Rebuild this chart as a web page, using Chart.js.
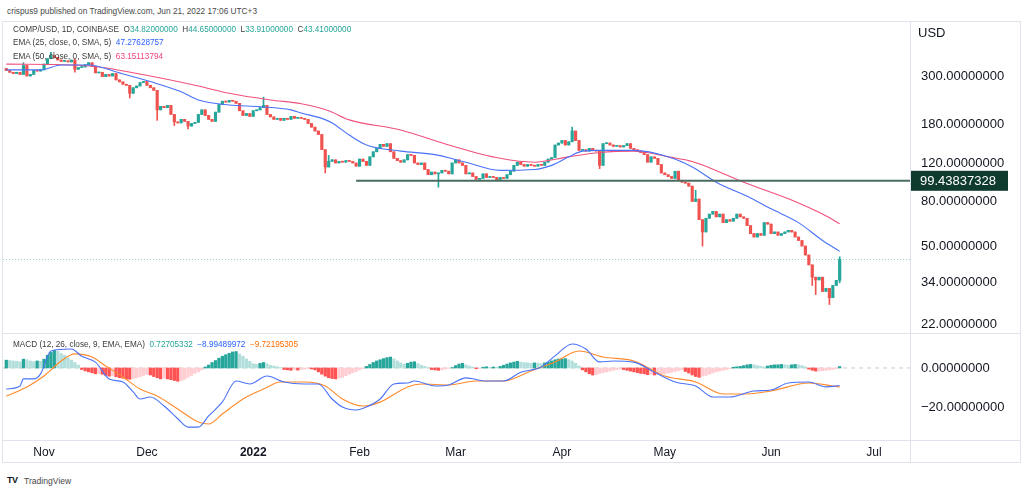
<!DOCTYPE html>
<html>
<head>
<meta charset="utf-8">
<script src="https://cdn.jsdelivr.net/npm/chart.js@4.4.1/dist/chart.umd.min.js"></script>
<style>
  body { margin: 0; background: #fff; width: 1024px; height: 495px; overflow: hidden; position: relative;
         font-family: "Liberation Sans", Arial, sans-serif; color: #131722; }
  .abs { position: absolute; }
  .line { position: absolute; background: #e0e3eb; }
  .legend { position: absolute; left: 13px; font-size: 8.2px; line-height: 10px; color: #3b3b3b; white-space: pre; }
  .up { color: #26a69a; }
  .blue { color: #2962ff; }
  .pink { color: #f0457a; }
  .orange { color: #ff6d00; }
  canvas { position: absolute; }
</style>
</head>
<body>
<div class="abs" style="left:7px;top:6px;font-size:8.3px;color:#4a4a4a;">crispus9 published on TradingView.com, Jun 21, 2022 17:06 UTC+3</div>

<div class="abs" style="left:2px;top:21px;width:1019px;height:442px;border:1px solid #e0e3eb;box-sizing:border-box;"></div>
<div class="line" style="left:3px;top:333px;width:1017px;height:1px;"></div>
<div class="line" style="left:3px;top:440px;width:1017px;height:1px;"></div>
<div class="line" style="left:910px;top:22px;width:1px;height:440px;"></div>

<!-- canvases reach 19px past the panes: that is the space the axis keeps for tick labels -->
<canvas id="priceChart" width="1018" height="349" style="left:3px;top:3px;"></canvas>
<canvas id="macdChart" width="1018" height="147" style="left:3px;top:315px;"></canvas>

<div class="legend" style="top:25px;">COMP/USD, 1D, COINBASE  O<span class="up">34.82000000</span>  H<span class="up">44.65000000</span>  L<span class="up">33.91000000</span>  C<span class="up">43.41000000</span></div>
<div class="legend" style="top:38px;">EMA (25, close, 0, SMA, 5)  <span class="blue">47.27628757</span></div>
<div class="legend" style="top:52px;">EMA (50, close, 0, SMA, 5)  <span class="pink">63.15113794</span></div>
<div class="legend" style="top:340px;">MACD (12, 26, close, 9, EMA, EMA)  <span class="up">0.72705332</span>  <span class="blue">&minus;8.99489972</span>  <span class="orange">&minus;9.72195305</span></div>
<div class="abs" style="left:918px;top:25px;font-size:13px;">USD</div>

<div class="abs" style="left:7px;top:475px;font-size:9px;font-weight:bold;letter-spacing:-0.5px;color:#131722;">TV</div>
<div class="abs" style="left:24px;top:476px;font-size:8.6px;color:#4a4a4a;">TradingView</div>

<script>
// COMP/USD daily closes, Oct 21 2021 .. Jun 21 2022 (day 0 = Oct 21)
const firstOpen = 325;
const closesOct = [318, 312, 308, 312, 305, 335, 300, 305, 318, 316, 320];
const closesNov = [340, 360, 372, 365, 355, 350, 352, 348, 355, 322,
                   328, 330, 338, 345, 332, 310, 312, 298, 305, 300,
                   308, 288, 282, 275, 272, 250, 265, 270, 280, 283];
const closesDec = [272, 265, 258, 210, 218, 215, 220, 200, 185, 183,
                   190, 186, 177, 182, 184, 200, 210, 198, 190, 186,
                   205, 222, 230, 228, 232, 230, 225, 208, 198, 202, 196];
const closesJan = [208, 210, 215, 220, 200, 195, 190, 192, 188, 192,
                   190, 196, 192, 194, 192, 190, 182, 175, 168, 162,
                   138, 115, 122, 124, 120, 122, 121, 123, 122, 120, 116];
const closesFeb = [125, 122, 117, 128, 135, 140, 146, 143, 147, 135,
                   126, 123, 121, 124, 131, 130, 120, 118, 120, 112,
                   106, 109, 107, 108, 111, 110, 107, 120];
const closesMar = [124, 120, 117, 107, 108, 104, 101, 102, 107, 103,
                   104, 103, 100, 103, 102, 106, 110, 117, 121, 118,
                   116, 118, 117, 116, 118, 117, 121, 125, 127, 145, 148];
const closesApr = [152, 145, 150, 168, 152, 137, 138, 136, 140, 137,
                   136, 117, 147, 148, 145, 143, 144, 142, 144, 147,
                   140, 138, 136, 134, 131, 121, 128, 126, 118, 108];
const closesMay = [106, 104, 102, 110, 100, 98, 97, 94, 80, 82,
                   66, 58, 67, 70, 72, 68, 70, 64, 66, 65,
                   67, 70, 68, 67, 62, 57, 55, 57, 56, 64, 63];
const closesJun = [57, 58, 56, 57, 58, 59, 58, 55, 53, 50,
                   45.5, 41, 36, 35, 36, 31, 32, 29, 33, 34.82, 43.41];

// visible long wicks
const wickDays  = [5, 13, 20, 36, 44, 49, 53, 75, 93, 94, 126, 165, 173, 201, 203, 235, 236, 240, 243];
const wickLows  = [null, null, 312, 238, 188, 178, 172, null, 108, null, 93, null, 113, null, 50, 33, 30, 27, 33.91];
const wickHighs = [345, 385, 358, null, null, null, null, 240, null, 130, null, 175, null, 90, null, null, null, null, 44.65];

// EMA lines, read at sample days
const ema25Days = [0, 10, 16, 24, 33, 42, 51, 56, 65, 74, 83, 86, 92, 95, 100, 105, 115, 125, 134, 144,
                   154, 159, 164, 168, 173, 183, 193, 200, 207, 217, 223, 231, 238, 243];
const ema25 = [320, 320, 337, 337, 310, 283, 254, 233, 221, 217, 210, 203, 192, 183, 161, 145, 136, 131, 121, 111,
               112, 117, 128, 136, 137, 137, 128, 115, 98, 83, 74, 64, 53, 47.28];
const ema50Days = [0, 19, 27, 42, 56, 65, 77, 86, 94, 100, 115, 129, 144, 154, 164, 173, 183, 188, 193, 199,
                   202, 215, 230, 238, 243];
const ema50 = [340, 337, 330, 300, 270, 250, 233, 224, 208, 189, 170, 145, 126, 121, 128, 134, 136, 133, 128, 123,
               119, 98, 80, 70, 63.15];

const supportLevel = 99.43837328;
const supportStart = 102;
const lastPrice = 43.41;

const priceTicks = [300, 180, 120, 80, 50, 34, 22];
const monthDays = [11, 41, 72, 103, 131, 162, 192, 223, 253];
const monthLabels = ['Nov', 'Dec', '2022', 'Feb', 'Mar', 'Apr', 'May', 'Jun', 'Jul'];

// MACD (12, 26, 9)
const macdHist = [
  4.0, 3.8, 3.6, 3.4, 3.2, 4.5, 4.2, 3.6, 3.2, 3.6, 3.4, 4.5, 6.5, 8.0, 9.0,
  8.5, 7.5, 6.5, 5.2, 4.0, 2.8, 1.5, -0.8, -1.5, -2.0, -2.5, -3.0, -2.8, -3.2, -3.8,
  -4.2, -4.0, -4.5, -5.0, -5.2, -5.6, -5.8, -5.4, -5.0, -4.5, -3.8, -3.2, -3.6,
  -4.4, -5.0, -5.6, -5.2, -5.6, -6.0, -6.4, -6.8, -6.5, -5.8,
  -4.8, -3.8, -2.8, -2.0, -1.0, 0.5, 1.5, 2.8, 3.8, 5.0,
  6.0, 6.8, 7.5, 8.2, 8.4, 7.2, 6.0, 4.6, 3.4, 2.2, 1.8, 2.4, 2.8, 2.2, 1.4, 1.0, 0.6, 0.2,
  -0.8, -1.0, -1.2, -0.9, -1.1, -0.8, -0.6, -0.4, -0.5, -1.0, -2.0,
  -3.2, -4.2, -5.0, -5.4, -5.6, -5.2, -4.8, -4.0, -3.2, -2.4, -1.8, -1.0, -0.4,
  0.8, 1.8, 2.8, 3.6, 4.2, 4.8, 5.3, 5.6, 4.6, 3.6, 2.6, 2.0, 2.4, 3.0, 3.2, 2.2, 1.4, 0.8, 0.2,
  -0.8, -1.0, -1.2, -1.0, -0.6, -0.2, 0.2, 1.2, 2.0, 2.4, 1.6, 1.0, 0.5, -0.4, -0.3,
  0.4, 0.6, 0.3, 0.5, 0.4, 0.8, 1.4, 2.0, 2.6, 3.0, 3.4, 3.0, 2.8, 2.6, 2.4, 2.6, 2.4, 2.2, 2.6, 3.0,
  3.6, 4.2, 4.6, 4.6, 4.8, 4.2, 3.6, 2.4, 1.0,
  -1.0, -2.0, -3.0, -3.6, -3.4, -2.8, -2.4, -2.0, -1.6, -1.2, -0.8, -0.6, -0.8,
  -1.2, -1.6, -2.0, -2.4, -2.8, -3.0, -3.4, -3.2, -3.6, -3.4, -3.2,
  -3.0, -2.6, -2.2, -1.8, -1.4, -1.0, -1.8, -2.6, -3.6, -4.4, -4.8, -4.2,
  -3.8, -3.2, -2.6, -2.0, -1.6, -1.2, -0.8, -0.4, 0.4, 0.6, 0.8, 1.2, 1.6, 1.8, 1.6, 1.2, 0.8, 0.6,
  1.0, 1.4, 1.6, 1.6, 1.8, 1.6, 1.4, 1.6, 1.8, 1.6, 1.2, 0.6,
  -0.6, -1.2, -1.6, -1.6, -1.4, -1.2, -1.0, -0.8, -0.4, 0.73
];
const macdDays = [0, 4, 5, 8, 10, 13, 19, 22, 26, 30, 34, 37, 39, 42, 46, 50, 53, 56, 59, 63, 67, 71, 76, 81, 87,
                  91, 95, 98, 102, 105, 109, 113, 117, 119, 125, 129, 134, 140, 145, 150, 156, 160, 165, 169, 173,
                  177, 183, 189, 195, 201, 206, 211, 218, 223, 228, 234, 239, 243];
const macdLine = [-10.8, -9.2, -5.6, -5.6, -3, 8.7, 9.7, 6, 3, -5.6, -7.2, -12.3, -15.9, -14.9, -19.5, -26, -30.3,
                  -30.3, -24.6, -17.4, -6.7, -8.2, -4.1, -7.2, -8.2, -8.2, -15.9, -20, -21.5, -20, -15.9, -8.2,
                  -7.7, -6.7, -9.2, -8.7, -5.1, -6.7, -6.7, -2.2, 0.5, 6.2, 12.3, 9.7, 3.1, 3.6, 3, -2.2, -7.2,
                  -9.2, -14.9, -14.9, -11.8, -11.3, -7.7, -7.2, -9.7, -8.99];
const signalDays = [0, 6, 11, 16, 20, 25, 29, 34, 39, 44, 50, 56, 59, 63, 69, 75, 80, 87, 93, 98, 104, 109, 117,
                    121, 129, 137, 145, 153, 160, 167, 174, 183, 192, 201, 209, 216, 223, 234, 241, 243];
const signalLine = [-14.4, -9.7, -4.1, 3.6, 7.2, 5.6, 1, -4.6, -10.8, -14.4, -21, -27.7, -28.7, -23.6, -15.9,
                    -10.8, -7.2, -7.2, -9.2, -15.9, -19.5, -17.5, -9.7, -8.2, -8.7, -6.7, -6.7, -1.5, 3.1, 8.7,
                    5.6, 3.6, -4.1, -7.2, -13.3, -13.3, -11.8, -7.7, -9.2, -9.72];
const macdTicks = [0, -20];

const X_MIN = -0.96;
const X_MAX = 263.5;
const UP = '#26a69a';
const DOWN = '#ef5350';
const FONT = '"Liberation Sans", Arial, sans-serif';
const AXIS_FONT = { family: FONT, size: 13, lineHeight: '16px' };

// build candles
const closes = [].concat(closesOct, closesNov, closesDec, closesJan, closesFeb,
                         closesMar, closesApr, closesMay, closesJun);
const opens = closes.map((c, i) => i === 0 ? firstOpen : closes[i - 1]);
const lows = closes.map((c, i) => Math.min(c, opens[i]));
const highs = closes.map((c, i) => Math.max(c, opens[i]));
wickDays.forEach((d, k) => {
  if (wickLows[k] !== null) lows[d] = wickLows[k];
  if (wickHighs[k] !== null) highs[d] = wickHighs[k];
});
const candleColors = closes.map((c, i) => c >= opens[i] ? UP : DOWN);

const toPoints = (days, vals) => days.map((d, i) => ({ x: d, y: vals[i] }));

// label box for the support level
const levelLabel = {
  id: 'levelLabel',
  afterDraw(chart) {
    const ctx = chart.ctx;
    const y = chart.scales.y.getPixelForValue(supportLevel);
    const x = chart.chartArea.right + 1;
    ctx.save();
    ctx.fillStyle = '#0f3a2e';
    ctx.fillRect(x, y - 10, 97, 20);
    ctx.fillStyle = '#ffffff';
    ctx.font = '13px ' + FONT;
    ctx.textBaseline = 'middle';
    ctx.fillText(supportLevel.toFixed(8), x + 9, y + 1);
    ctx.restore();
  }
};

new Chart(document.getElementById('priceChart'), {
  type: 'bar',
  data: {
    datasets: [
      {
        label: 'wick',
        data: closes.map((c, i) => ({ x: i, y: [lows[i], highs[i]] })),
        backgroundColor: candleColors,
        barThickness: 1,
        grouped: false,
        order: 3
      },
      {
        label: 'body',
        data: closes.map((c, i) => ({ x: i, y: [opens[i], c] })),
        backgroundColor: candleColors,
        barThickness: 2.5,
        minBarLength: 1,
        grouped: false,
        order: 2
      },
      {
        type: 'line',
        label: 'EMA 25',
        data: toPoints(ema25Days, ema25),
        borderColor: '#4a72f7',
        borderWidth: 1.1,
        pointRadius: 0,
        cubicInterpolationMode: 'monotone',
        order: 1
      },
      {
        type: 'line',
        label: 'EMA 50',
        data: toPoints(ema50Days, ema50),
        borderColor: '#f0507c',
        borderWidth: 1.1,
        pointRadius: 0,
        cubicInterpolationMode: 'monotone',
        order: 1
      },
      {
        type: 'line',
        label: 'support',
        data: [{ x: supportStart, y: supportLevel }, { x: X_MAX, y: supportLevel }],
        borderColor: '#4a6b61',
        borderWidth: 2,
        pointRadius: 0,
        order: 0
      },
      {
        type: 'line',
        label: 'last',
        data: [{ x: X_MIN, y: lastPrice }, { x: X_MAX, y: lastPrice }],
        borderColor: '#8ed3cb',
        borderWidth: 1,
        borderDash: [1, 2],
        pointRadius: 0,
        order: 4
      }
    ]
  },
  options: {
    responsive: false,
    animation: false,
    devicePixelRatio: 1,
    layout: { padding: 0 },
    plugins: { legend: { display: false }, tooltip: { enabled: false } },
    scales: {
      x: { type: 'linear', min: X_MIN, max: X_MAX, offset: false, display: false },
      y: {
        type: 'logarithmic',
        position: 'right',
        min: 20.0,
        max: 530,
        bounds: 'data',
        grid: { display: false, drawTicks: false },
        border: { display: false },
        afterBuildTicks: (scale) => { scale.ticks = priceTicks.map(v => ({ value: v })); },
        afterFit: (scale) => { scale.width = 111; },
        ticks: {
          padding: 11,
          color: '#131722',
          font: AXIS_FONT,
          callback: (v) => Number(v).toFixed(8)
        }
      }
    }
  },
  plugins: [levelLabel]
});

// MACD pane
const histColors = macdHist.map((v, i) => {
  const prev = i === 0 ? v : macdHist[i - 1];
  if (v >= 0) return v >= prev ? '#26a69a' : '#b2dfdb';
  return v < prev ? '#ff5252' : '#ffcdd2';
});

new Chart(document.getElementById('macdChart'), {
  type: 'bar',
  data: {
    datasets: [
      {
        type: 'line',
        label: 'zero',
        data: [{ x: X_MIN, y: 0 }, { x: X_MAX, y: 0 }],
        borderColor: '#c8cad1',
        borderWidth: 1,
        borderDash: [4, 4],
        pointRadius: 0,
        order: 5
      },
      {
        label: 'Histogram',
        data: macdHist.map((v, i) => ({ x: i, y: v })),
        backgroundColor: histColors,
        barThickness: 2.6,
        grouped: false,
        order: 3
      },
      {
        type: 'line',
        label: 'MACD',
        data: toPoints(macdDays, macdLine),
        borderColor: '#4a72f7',
        borderWidth: 1.1,
        pointRadius: 0,
        cubicInterpolationMode: 'monotone',
        order: 1
      },
      {
        type: 'line',
        label: 'Signal',
        data: toPoints(signalDays, signalLine),
        borderColor: '#ff8a2b',
        borderWidth: 1.1,
        pointRadius: 0,
        cubicInterpolationMode: 'monotone',
        order: 1
      }
    ]
  },
  options: {
    responsive: false,
    animation: false,
    devicePixelRatio: 1,
    layout: { padding: 0 },
    plugins: { legend: { display: false }, tooltip: { enabled: false } },
    scales: {
      x: {
        type: 'linear',
        min: X_MIN,
        max: X_MAX,
        offset: false,
        grid: { display: false, drawTicks: false },
        border: { display: false },
        afterBuildTicks: (scale) => { scale.ticks = monthDays.map(v => ({ value: v })); },
        afterFit: (scale) => { scale.height = 22; },
        ticks: {
          autoSkip: false,
          maxRotation: 0,
          padding: 5,
          color: '#131722',
          font: (ctx) => ({ family: FONT, size: 12,
                            weight: ctx.tick && ctx.tick.value === 72 ? 'bold' : 'normal' }),
          callback: (v) => monthLabels[monthDays.indexOf(v)]
        }
      },
      y: {
        position: 'right',
        min: -36.9,
        max: 17.4,
        bounds: 'data',
        grid: { display: false, drawTicks: false },
        border: { display: false },
        afterBuildTicks: (scale) => { scale.ticks = macdTicks.map(v => ({ value: v })); },
        afterFit: (scale) => { scale.width = 111; },
        ticks: {
          padding: 11,
          color: '#131722',
          font: AXIS_FONT,
          callback: (v) => (v < 0 ? '\u2212' : '') + Math.abs(v).toFixed(8)
        }
      }
    }
  }
});
</script>
</body>
</html>
